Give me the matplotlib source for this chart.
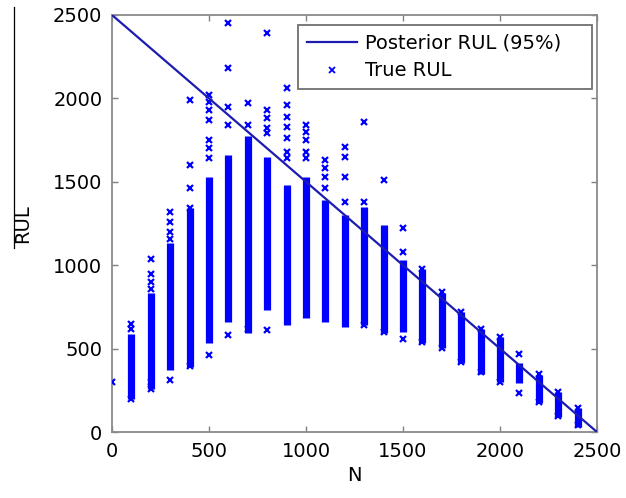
import matplotlib
matplotlib.use("Agg")
import matplotlib.pyplot as plt
from matplotlib.lines import Line2D

plt.rcParams['font.family'] = ['DejaVu Sans']

# Cycle counts at which RUL was evaluated
cycles = [0, 100, 200, 300, 400, 500, 600, 700, 800, 900, 1000, 1100, 1200,
          1300, 1400, 1500, 1600, 1700, 1800, 1900, 2000, 2100, 2200, 2300, 2400]

# Dense range of true RUL samples at each cycle (None = no dense range)
band_low = [None, 200, 255, 370, 390, 535, 660, 595, 730, 640, 685, 660, 630,
            640, 595, 600, 535, 505, 415, 350, 300, 295, 175, 90, 30]
band_high = [None, 590, 835, 1135, 1345, 1530, 1660, 1775, 1650, 1480, 1530, 1390, 1300,
             1350, 1240, 1030, 980, 835, 720, 620, 570, 415, 340, 240, 145]

# Individual true RUL samples at each cycle (sparse tails and range ends)
samples = [
    [300],
    [650, 615, 200],
    [1040, 950, 900, 860, 300, 260],
    [1320, 1260, 1200, 1160, 310],
    [1990, 1600, 1465, 1340, 395],
    [2020, 1980, 1930, 1870, 1750, 1700, 1640, 460],
    [2450, 2180, 1950, 1840, 580],
    [1970, 1840, 620],
    [2390, 1930, 1880, 1820, 1790, 610],
    [2060, 1960, 1890, 1830, 1760, 1680, 1640],
    [1840, 1800, 1750, 1680, 1640],
    [1630, 1580, 1530, 1460],
    [1710, 1650, 1530, 1380],
    [1860, 1380, 640],
    [1510, 600],
    [1225, 1080, 560],
    [980, 540],
    [840, 505],
    [720, 420],
    [620, 360],
    [570, 300],
    [470, 235],
    [345, 180],
    [240, 95],
    [145, 40],
]

# Posterior RUL line
posterior_n = [0, 2500]
posterior_rul = [2500, 0]

xticks = [0, 500, 1000, 1500, 2000, 2500]
yticks = [0, 500, 1000, 1500, 2000, 2500]

fig = plt.figure(figsize=(6.26, 4.98), dpi=100)
ax = fig.add_axes([112 / 626, 1 - 432 / 498, (597 - 112) / 626, (432 - 15) / 498])

blue = '#0000ff'
for n, lo, hi in zip(cycles, band_low, band_high):
    if lo is not None:
        ax.vlines(n, lo, hi, color=blue, lw=5.2, zorder=2)

xs, ys = [], []
for n, vals in zip(cycles, samples):
    xs.extend([n] * len(vals))
    ys.extend(vals)
ax.plot(xs, ys, linestyle='none', marker='x', color=blue, markersize=5,
        markeredgewidth=1.6, zorder=3)

ax.plot(posterior_n, posterior_rul, color='#1c1cb0', lw=1.6, zorder=4)

ax.set_xlim(0, 2500)
ax.set_ylim(0, 2500)
ax.set_xticks(xticks)
ax.set_yticks(yticks)
ax.tick_params(direction='in', length=4, width=1, color='#808080',
               top=True, right=True, labelsize=14, pad=7)
for s in ax.spines.values():
    s.set_color('#8a8a8a')
    s.set_linewidth(1.3)

ax.set_xlabel('N', fontsize=14, labelpad=4)
ax.set_ylabel('RUL', fontsize=14)
ax.yaxis.set_label_coords(-0.165, 0.5)

handles = [
    Line2D([], [], color='#1c1cb0', lw=1.6),
    Line2D([], [], linestyle='none', marker='x', color=blue, markersize=4,
           markeredgewidth=1.3),
]
# legend box spans a fixed width in figure pixels
lx0, lx1, ly1, ly0 = 298 / 626, 592 / 626, 1 - 25 / 498, 1 - 93 / 498
leg = ax.legend(handles, ['Posterior RUL (95%)', 'True RUL'], loc='upper left',
                bbox_to_anchor=(lx0, ly0, lx1 - lx0, ly1 - ly0),
                bbox_transform=fig.transFigure, mode='expand',
                fontsize=14, fancybox=False, framealpha=1, edgecolor='#707070',
                borderpad=0.45, labelspacing=0.45, handlelength=2.6,
                handletextpad=0.4, borderaxespad=0)
leg.get_frame().set_linewidth(1.3)

fig.add_artist(Line2D([14 / 626, 14 / 626], [1 - 7 / 498, 1 - 248 / 498],
                      color='black', lw=0.9))

fig.savefig('out.png', dpi=100)
